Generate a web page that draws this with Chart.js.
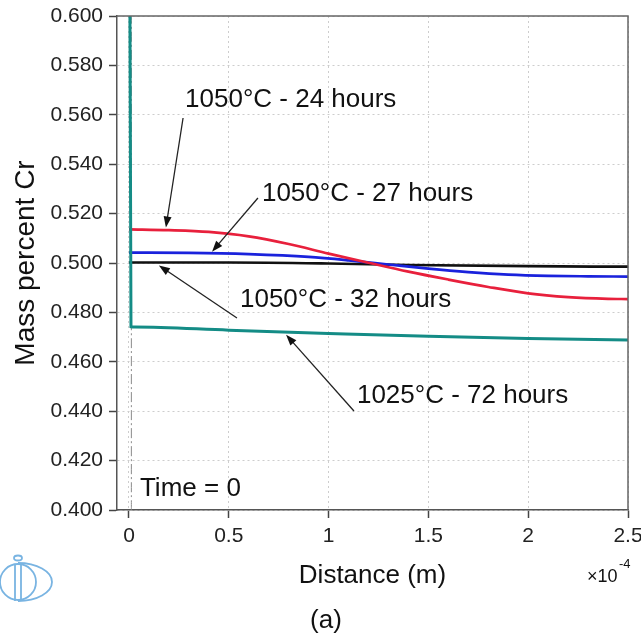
<!DOCTYPE html>
<html>
<head>
<meta charset="utf-8">
<title>Mass percent Cr profiles</title>
<script src="https://cdn.jsdelivr.net/npm/chart.js@4.4.0/dist/chart.umd.min.js"></script>
<style>
  html, body { margin: 0; padding: 0; background: #fff; }
  canvas { display: block; }
</style>
</head>
<body>
<canvas id="crChart" width="641" height="636"></canvas>
<script>
// distance is in units of 1e-4 m
const xTicks = [0, 0.5, 1, 1.5, 2, 2.5];
const yTicks = [0.40, 0.42, 0.44, 0.46, 0.48, 0.50, 0.52, 0.54, 0.56, 0.58, 0.60];

// 1050°C - 24 hours
const dist24 = [0, 0.2, 0.4, 0.6, 0.8, 1.0, 1.2, 1.4, 1.6, 1.8, 2.0, 2.2, 2.4, 2.5];
const cr24 = [0.5136, 0.5133, 0.5126, 0.5108, 0.5077, 0.5038, 0.5001, 0.4965, 0.4933, 0.4903, 0.4877, 0.4862, 0.4855, 0.4854];

// 1050°C - 27 hours
const dist27 = [0, 0.3, 0.6, 0.9, 1.1, 1.3, 1.5, 1.7, 1.9, 2.1, 2.3, 2.5];
const cr27 = [0.5042, 0.5041, 0.5036, 0.5025, 0.5011, 0.4994, 0.4977, 0.4963, 0.4953, 0.4948, 0.4946, 0.4945];

// 1050°C - 32 hours
const dist32 = [0, 0.5, 1.0, 1.4, 2.0, 2.5];
const cr32 = [0.5002, 0.5002, 0.4998, 0.4992, 0.4987, 0.4985];

// 1025°C - 72 hours
const dist72 = [0, 0.01, 0.03, 0.5, 1.0, 1.5, 2.0, 2.5];
const cr72 = [0.75, 0.4742, 0.4741, 0.4728, 0.4715, 0.4703, 0.4694, 0.4688];

// initial profile
const distT0 = [0.012, 0.012];
const crT0 = [0.40, 0.60];

const FONT = "'Liberation Sans', Arial, Helvetica, sans-serif";

const toPoints = (xs, ys) => xs.map((x, i) => ({ x, y: ys[i] }));

// labels with arrows, in data units
const callouts = [
  { text: "1050°C - 24 hours", at: [0.281, 0.5660], from: [0.271, 0.5587], tip: [0.185, 0.5144] },
  { text: "1050°C - 27 hours", at: [0.666, 0.5279], from: [0.646, 0.5263], tip: [0.416, 0.5046] },
  { text: "1050°C - 32 hours", at: [0.556, 0.4850], from: [0.541, 0.4777], tip: [0.150, 0.4990] },
  { text: "1025°C - 72 hours", at: [1.142, 0.4462], from: [1.127, 0.4401], tip: [0.787, 0.4710] },
  { text: "Time = 0", at: [0.055, 0.4085] }
];

function arrow(ctx, x1, y1, x2, y2) {
  const ang = Math.atan2(y2 - y1, x2 - x1);
  ctx.beginPath();
  ctx.moveTo(x1, y1);
  ctx.lineTo(x2 - Math.cos(ang) * 6, y2 - Math.sin(ang) * 6);
  ctx.stroke();
  ctx.beginPath();
  ctx.moveTo(x2, y2);
  ctx.lineTo(x2 - Math.cos(ang) * 11 + Math.sin(ang) * 4, y2 - Math.sin(ang) * 11 - Math.cos(ang) * 4);
  ctx.lineTo(x2 - Math.cos(ang) * 11 - Math.sin(ang) * 4, y2 - Math.sin(ang) * 11 + Math.cos(ang) * 4);
  ctx.closePath();
  ctx.fill();
}

const decor = {
  id: "decor",
  afterDatasetsDraw(chart) {
    const { ctx, chartArea: a, scales: { x, y } } = chart;
    ctx.save();

    // top and right frame
    ctx.strokeStyle = "#666";
    ctx.lineWidth = 1.5;
    ctx.beginPath();
    ctx.moveTo(a.left, a.top);
    ctx.lineTo(a.right, a.top);
    ctx.lineTo(a.right, a.bottom);
    ctx.stroke();

    // callouts
    ctx.fillStyle = "#111";
    ctx.strokeStyle = "#222";
    ctx.lineWidth = 1.3;
    ctx.font = "26px " + FONT;
    ctx.textBaseline = "middle";
    ctx.textAlign = "left";
    callouts.forEach(c => {
      ctx.fillText(c.text, x.getPixelForValue(c.at[0]), y.getPixelForValue(c.at[1]));
      if (c.tip) {
        arrow(ctx,
          x.getPixelForValue(c.from[0]), y.getPixelForValue(c.from[1]),
          x.getPixelForValue(c.tip[0]), y.getPixelForValue(c.tip[1]));
      }
    });
    ctx.restore();
  },
  afterDraw(chart) {
    const { ctx, chartArea: a } = chart;
    ctx.save();
    ctx.fillStyle = "#111";
    ctx.textBaseline = "middle";

    // axis titles
    ctx.textAlign = "center";
    ctx.font = "26px " + FONT;
    ctx.fillText("Distance (m)", (a.left + a.right) / 2, 576);
    ctx.save();
    ctx.translate(26, (a.top + a.bottom) / 2);
    ctx.rotate(-Math.PI / 2);
    ctx.font = "28px " + FONT;
    ctx.fillText("Mass percent Cr", 0, 0);
    ctx.restore();

    // x multiplier
    ctx.textAlign = "left";
    ctx.font = "18px " + FONT;
    ctx.fillText("×10", 587, 577);
    ctx.font = "13px " + FONT;
    ctx.fillText("-4", 619, 564);

    ctx.textAlign = "center";
    ctx.font = "26px " + FONT;
    ctx.fillText("(a)", 326, 621);

    // logo
    ctx.strokeStyle = "#79b4e2";
    ctx.lineWidth = 1.8;
    ctx.beginPath();
    ctx.arc(18, 582, 18, 0, Math.PI * 2);
    ctx.stroke();
    ctx.beginPath();
    ctx.ellipse(18, 582, 34, 19, 0, -Math.PI / 2, Math.PI / 2);
    ctx.stroke();
    ctx.beginPath();
    ctx.moveTo(15, 564); ctx.lineTo(15, 601);
    ctx.moveTo(21, 564); ctx.lineTo(21, 601);
    ctx.stroke();
    ctx.beginPath();
    ctx.ellipse(18, 558, 4, 2.5, 0, 0, Math.PI * 2);
    ctx.stroke();
    ctx.restore();
  }
};

const ctx = document.getElementById("crChart").getContext("2d");

new Chart(ctx, {
  type: "line",
  data: {
    datasets: [
      {
        label: "1025°C - 72 hours",
        data: toPoints(dist72, cr72),
        borderColor: "#148c86",
        borderWidth: 3
      },
      {
        label: "1050°C - 24 hours",
        data: toPoints(dist24, cr24),
        borderColor: "#e8203c",
        borderWidth: 2.7
      },
      {
        label: "1050°C - 27 hours",
        data: toPoints(dist27, cr27),
        borderColor: "#1a22dc",
        borderWidth: 2.7
      },
      {
        label: "1050°C - 32 hours",
        data: toPoints(dist32, cr32),
        borderColor: "#111111",
        borderWidth: 2.7
      },
      {
        label: "Time = 0",
        data: toPoints(distT0, crT0),
        borderColor: "#8a8a8a",
        borderWidth: 1,
        borderDash: [10, 3, 2, 3]
      }
    ]
  },
  options: {
    responsive: false,
    animation: false,
    devicePixelRatio: 1,
    layout: { padding: { top: 16, right: 13, left: 0, bottom: 0 } },
    elements: {
      point: { radius: 0 },
      line: { cubicInterpolationMode: "monotone", fill: false }
    },
    plugins: {
      legend: { display: false },
      tooltip: { enabled: false }
    },
    scales: {
      x: {
        type: "linear",
        min: -0.06,
        max: 2.5,
        afterBuildTicks: s => { s.ticks = xTicks.map(v => ({ value: v })); },
        afterFit: s => { s.height = 126; s.paddingLeft = 0; s.paddingRight = 0; },
        ticks: {
          color: "#222",
          font: { family: FONT, size: 21 },
          padding: 6,
          maxRotation: 0,
          autoSkip: false,
          callback: v => String(v)
        },
        grid: { color: "#cdcdcd", tickColor: "#444", tickLength: 8, tickWidth: 1.5 },
        border: { color: "#555", width: 1.5, dash: [2, 3] }
      },
      y: {
        min: 0.4,
        max: 0.6,
        afterBuildTicks: s => { s.ticks = yTicks.map(v => ({ value: v })); },
        afterFit: s => { s.width = 117; s.paddingTop = 0; s.paddingBottom = 0; },
        ticks: {
          color: "#222",
          font: { family: FONT, size: 21 },
          padding: 6,
          autoSkip: false,
          callback: v => v.toFixed(3)
        },
        grid: { color: "#cdcdcd", tickColor: "#444", tickLength: 8, tickWidth: 1.5 },
        border: { color: "#555", width: 1.5, dash: [2, 3] }
      }
    }
  },
  plugins: [decor]
});
</script>
</body>
</html>
